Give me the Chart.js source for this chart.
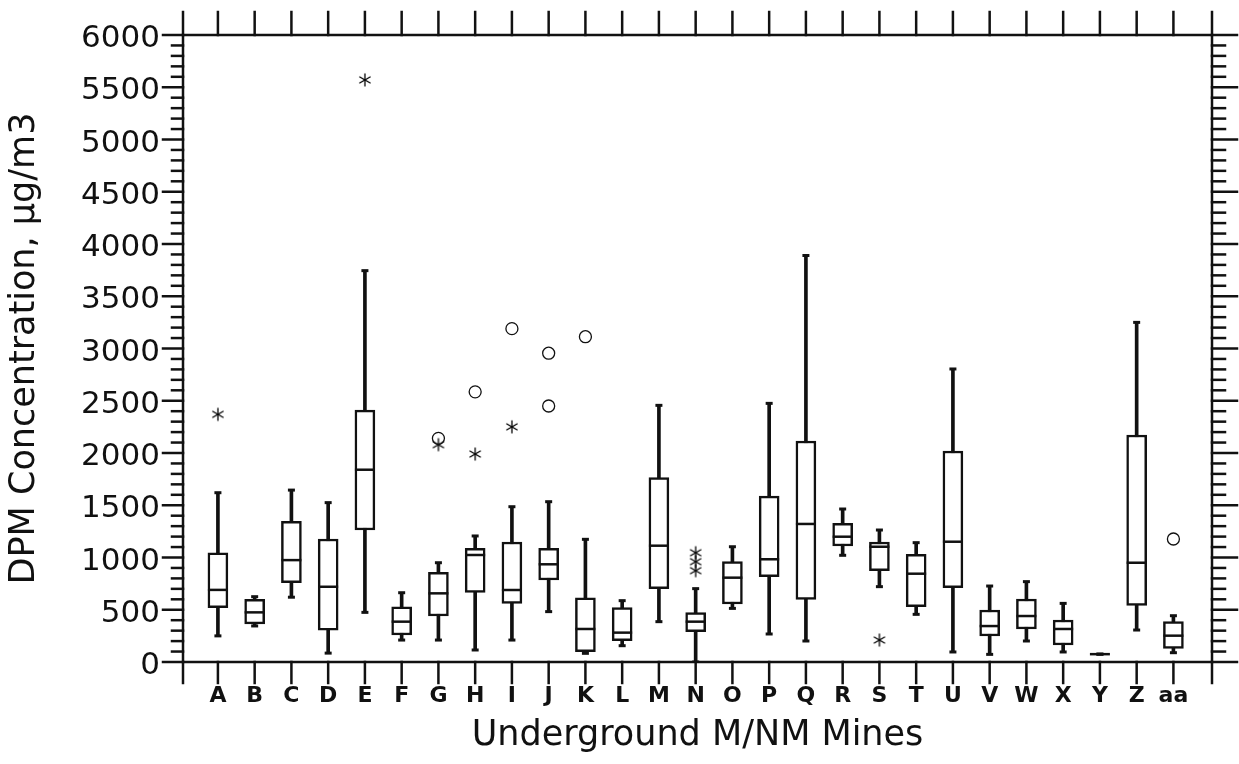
<!DOCTYPE html>
<html>
<head>
<meta charset="utf-8">
<script src="https://cdn.jsdelivr.net/npm/chart.js@4.4.1/dist/chart.umd.min.js"></script>
<style>
  html, body { margin: 0; padding: 0; background: #ffffff; }
  #wrap { width: 1239px; height: 764px; }
</style>
</head>
<body>
<div id="wrap"><canvas id="c" width="1239" height="764"></canvas></div>
<script>
// ---- data ----
const categories = ['A','B','C','D','E','F','G','H','I','J','K','L','M','N','O','P','Q','R','S','T','U','V','W','X','Y','Z','aa'];
const whiskerLow  = [250, 345, 620,   85,  475, 210, 210,  115,  210,  482,   83, 156,  386,   0,  513,  268,  201, 1021,  721,  456,   96,  73, 201,  96, 75,  306,  89];
const q1          = [520, 365, 760,  305, 1263, 258, 440,  667,  561,  785,   99, 204,  702, 290,  555,  816,  600, 1110,  874,  529,  711, 249, 316, 163, 75,  542, 131];
const median      = [690, 475, 975,  720, 1840, 386, 657, 1024,  689,  935,  316, 281, 1113, 386,  807,  983, 1321, 1199, 1103,  845, 1151, 344, 440, 316, 75,  950, 252];
const q3          = [1045, 600, 1345, 1177, 2411, 529, 858, 1088, 1148, 1088, 615, 520, 1764, 472,  960, 1588, 2115, 1327, 1148, 1030, 2019, 498, 603, 402, 75, 2172, 386];
const whiskerHigh = [1620, 625, 1645, 1525, 3745, 663, 950, 1206, 1486, 1534, 1174, 587, 2456, 702, 1103, 2475, 3890, 1464, 1263, 1142, 2804, 727, 769, 561, 75, 3250, 443];
// outliers drawn as circles
const circleCats   = ['G', 'H', 'I', 'J', 'J', 'K', 'aa'];
const circleValues = [2140, 2585, 3190, 2955, 2450, 3113, 1177];
// extreme values drawn as asterisks
const starCats   = ['A', 'E', 'G', 'H', 'I', 'N', 'N', 'N', 'S'];
const starValues = [2370, 5570, 2080, 1990, 2250, 1046, 960, 874, 210];

const INK = '#111111';

function makeAsterisk() {
  const size = 16, c = document.createElement('canvas');
  c.width = size; c.height = size;
  const g = c.getContext('2d');
  g.strokeStyle = '#000000'; g.lineWidth = 1.3;
  const r = 6.5, cx = size / 2, cy = size / 2;
  [90, 30, 150].forEach(deg => {
    const t = deg * Math.PI / 180;
    g.beginPath();
    g.moveTo(cx + r * Math.cos(t), cy - r * Math.sin(t));
    g.lineTo(cx - r * Math.cos(t), cy + r * Math.sin(t));
    g.stroke();
  });
  return c;
}

const idx = c => categories.indexOf(c);

const frame = {
  id: 'frame',
  afterDraw(chart) {
    const { ctx, chartArea: a, scales: { x, y } } = chart;
    ctx.save();
    ctx.strokeStyle = INK;
    ctx.lineWidth = 2.5;
    ctx.lineCap = 'square';
    const seg = (x1, y1, x2, y2) => { ctx.beginPath(); ctx.moveTo(x1, y1); ctx.lineTo(x2, y2); ctx.stroke(); };
    ctx.strokeRect(a.left, a.top, a.right - a.left, a.bottom - a.top);
    const xs = [x.min].concat(categories.map((_, i) => i), [x.max]);
    xs.forEach(v => {
      const px = x.getPixelForValue(v);
      seg(px, a.top, px, a.top - 23);
      seg(px, a.bottom, px, a.bottom + 21);
    });
    for (let v = y.min; v <= y.max; v += 100) {
      const py = y.getPixelForValue(v);
      const major = v % 500 === 0;
      seg(a.left, py, a.left - (major ? 20 : 11), py);
      seg(a.right, py, a.right + (major ? 25 : 13), py);
    }
    ctx.restore();
  }
};

new Chart(document.getElementById('c'), {
  type: 'bar',
  data: {
    datasets: [
      {
        type: 'scatter', label: 'median', order: 1,
        data: categories.map((c, i) => ({ x: i, y: median[i] })),
        pointStyle: 'line', pointRadius: 10, pointBorderWidth: 2.5, borderColor: INK, backgroundColor: INK
      },
      {
        type: 'scatter', label: 'whisker caps', order: 1,
        data: categories.map((c, i) => ({ x: i, y: whiskerLow[i] })).concat(categories.map((c, i) => ({ x: i, y: whiskerHigh[i] }))),
        pointStyle: 'line', pointRadius: 3.5, pointBorderWidth: 3, borderColor: INK, backgroundColor: INK
      },
      {
        type: 'scatter', label: 'outliers', order: 1,
        data: circleCats.map((c, i) => ({ x: idx(c), y: circleValues[i] })),
        pointStyle: 'circle', pointRadius: 6, pointBorderWidth: 1.3, borderColor: INK, backgroundColor: 'rgba(255,255,255,0)'
      },
      {
        type: 'scatter', label: 'extremes', order: 1,
        data: starCats.map((c, i) => ({ x: idx(c), y: starValues[i] })),
        pointStyle: makeAsterisk(), pointRadius: 7, borderColor: INK
      },
      {
        type: 'bar', label: 'box', order: 2, grouped: false,
        data: categories.map((c, i) => ({ x: i, y: [q1[i], q3[i]] })),
        backgroundColor: '#ffffff', borderColor: INK, borderWidth: 2.5, borderSkipped: false,
        barPercentage: 1, categoryPercentage: 1, maxBarThickness: 20
      },
      {
        type: 'bar', label: 'whisker', order: 3, grouped: false,
        data: categories.map((c, i) => ({ x: i, y: [whiskerLow[i], whiskerHigh[i]] })),
        backgroundColor: INK, borderWidth: 0,
        barPercentage: 1, categoryPercentage: 1, maxBarThickness: 3
      }
    ]
  },
  options: {
    responsive: false,
    animation: false,
    events: [],
    layout: { padding: { left: 0, top: 35, right: 27, bottom: 0 } },
    plugins: { legend: { display: false }, tooltip: { enabled: false } },
    scales: {
      x: {
        type: 'linear', offset: false, min: -0.95, max: 27.05,
        grid: { display: false, drawTicks: false, offset: false }, border: { display: false },
        afterBuildTicks: s => { s.ticks = categories.map((_, i) => ({ value: i })); },
        afterFit: s => { s.height = 102; s.paddingLeft = 0; s.paddingRight = 0; },
        ticks: {
          autoSkip: false, maxRotation: 0, padding: 21, color: INK,
          font: { family: 'DejaVu Sans', size: 22, weight: 'bold' },
          callback: v => categories[v] ?? ''
        },
        title: {
          display: true, text: 'Underground M/NM Mines', color: INK,
          font: { family: 'DejaVu Sans', size: 35 }, padding: { top: 0, bottom: 7 }
        }
      },
      y: {
        type: 'linear', min: 0, max: 6000,
        grid: { display: false, drawTicks: false }, border: { display: false },
        afterFit: s => { s.width = 183; s.paddingTop = 0; s.paddingBottom = 0; },
        ticks: {
          stepSize: 500, padding: 23, labelOffset: 4, color: INK,
          font: { family: 'DejaVu Sans', size: 31 },
          callback: v => String(v)
        },
        title: {
          display: true, text: 'DPM Concentration, µg/m3', color: INK,
          font: { family: 'DejaVu Sans', size: 35 }, padding: { top: 4, bottom: 0 }
        }
      }
    }
  },
  plugins: [frame]
});
</script>
</body>
</html>
